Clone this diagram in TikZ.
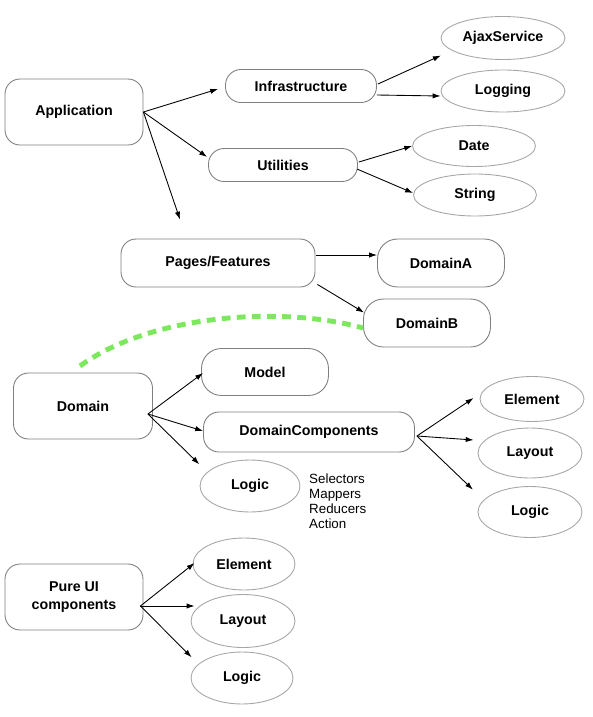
\documentclass[tikz,border=0pt]{standalone}
\usepackage{fontspec}
\setmainfont{Liberation Sans}
\usetikzlibrary{shapes.geometric,arrows.meta}

\definecolor{boxline}{HTML}{7F7F7F}
\definecolor{ovalline}{HTML}{A6A6A6}
\definecolor{linkgreen}{HTML}{7DE85E}

\tikzset{
	label font/.style={font=\fontsize{8.1}{10}\selectfont\bfseries},
	block/.style={draw=boxline, line width=0.5pt, rounded corners=0.3cm, inner sep=0pt, label font},
	pill/.style={block, rounded corners=0.31cm},
	oval/.style={ellipse, draw=ovalline, line width=0.5pt, inner sep=0pt, label font},
	arr/.style={black, line width=0.5pt, -{Latex[length=4.5pt,width=3pt]}},
}

\begin{document}
\begin{tikzpicture}[x=0.02cm, y=-0.02cm]
		\useasboundingbox (0,0) rectangle (592,717);

		% top level
		\node[block, minimum width=2.76cm, minimum height=1.32cm] (app) at (74,112) {Application};
		\node[pill, minimum width=3.02cm, minimum height=0.66cm] (infra) at (301,86) {Infrastructure};
		\node[pill, minimum width=2.98cm, minimum height=0.66cm] (util) at (283,165) {Utilities};

		\node[oval, minimum width=2.48cm, minimum height=0.86cm] (ajax) at (503,38) {AjaxService};
		\node[oval, minimum width=2.48cm, minimum height=0.84cm] (logging) at (503,91) {Logging};
		\node[oval, minimum width=2.46cm, minimum height=0.82cm] (date) at (474,146) {Date};
		\node[oval, minimum width=2.46cm, minimum height=0.84cm] (string) at (475,195) {String};

		\draw[arr] (app.east) -- ([shift={(-7,3)}]infra.west);
		\draw[arr] (app.east) -- ([shift={(-1,-8)}]util.west);

		\draw[arr] ([shift={(1,-2)}]infra.east) -- ([shift={(-18,2)}]ajax.south west);
		\draw[arr] ([shift={(0,9)}]infra.east) -- ([shift={(0,5)}]logging.west);
		\draw[arr] ([shift={(1,-3)}]util.east) -- (date.west);
		\draw[arr] ([shift={(-1,4)}]util.east) -- ([shift={(0,-2)}]string.west);

		% pages
		\node[block, minimum width=3.88cm, minimum height=0.96cm] (pages) at (218,263) {Pages/Features};
		\node[block, rounded corners=0.4cm, minimum width=2.54cm, minimum height=0.96cm] (domA) at (441,263) {DomainA};
		\node[block, rounded corners=0.4cm, minimum width=2.54cm, minimum height=0.96cm] (domB) at (427,323) {DomainB};

		\draw[arr] (app.east) -- ([shift={(-38,-19)}]pages.north);
		\draw[arr] ([shift={(1,-8)}]pages.east) -- ([shift={(0,-8)}]domA.west);
		\draw[arr] ([shift={(2,-3)}]pages.south east) -- ([shift={(1,14)}]domB.north west);

		\coordinate (gstart) at (80,366);
		\draw[linkgreen, line width=2.8pt, dash pattern=on 5pt off 3.6pt] (gstart) .. controls (150,315) and (280,305) .. ([shift={(0,5)}]domB.west);

		% domain
		\node[block, minimum width=2.78cm, minimum height=1.32cm] (domain) at (83,406) {Domain};
		\node[block, rounded corners=0.4cm, minimum width=2.54cm, minimum height=0.94cm] (model) at (265,372) {Model};
		\node[pill, minimum width=4.22cm, minimum height=0.8cm] (domcomp) at (309,432) {DomainComponents};
		\node[oval, minimum width=2.0cm, minimum height=1.04cm] (dlogic) at (250,486) {Logic};
		\node[anchor=west, align=left, font=\fontsize{7.6}{8.5}\selectfont] (dlogicnote) at (303,501) {Selectors\\Mappers\\Reducers\\Action};

		\draw[arr] ([shift={(-5,8)}]domain.east) -- ([shift={(2,1)}]model.west);
		\draw[arr] ([shift={(-5,8)}]domain.east) -- ([shift={(0,-1)}]domcomp.west);
		\draw[arr] ([shift={(-5,8)}]domain.east) -- ([shift={(-15,-3)}]dlogic.north west);

		\node[oval, minimum width=2.08cm, minimum height=0.9cm] (celem) at (532,399) {Element};
		\node[oval, minimum width=2.08cm, minimum height=1.0cm] (clayout) at (530,453) {Layout};
		\node[oval, minimum width=2.08cm, minimum height=1.02cm] (clogic) at (530,512) {Logic};

		\draw[arr] ([shift={(2,4)}]domcomp.east) -- ([shift={(-6,-1)}]celem.west);
		\draw[arr] ([shift={(2,4)}]domcomp.east) -- ([shift={(-4,-13)}]clayout.west);
		\draw[arr] ([shift={(2,4)}]domcomp.east) -- ([shift={(-20,-4)}]clogic.north west);

		% pure ui
		\node[block, align=center, minimum width=2.76cm, minimum height=1.32cm] (pureui) at (74,597) {Pure UI\\components};
		\node[oval, minimum width=2.04cm, minimum height=1.04cm] (uelem) at (244,564) {Element};
		\node[oval, minimum width=2.08cm, minimum height=1.06cm] (ulayout) at (243,621) {Layout};
		\node[oval, minimum width=2.04cm, minimum height=1.04cm] (ulogic) at (242,678) {Logic};

		\draw[arr] ([shift={(-3,9)}]pureui.east) -- ([shift={(2,-1)}]uelem.west);
		\draw[arr] ([shift={(-3,9)}]pureui.east) -- ([shift={(4,-15)}]ulayout.west);
		\draw[arr] ([shift={(-3,9)}]pureui.east) -- ([shift={(-14,-2)}]ulogic.north west);
	\end{tikzpicture}
\end{document}
